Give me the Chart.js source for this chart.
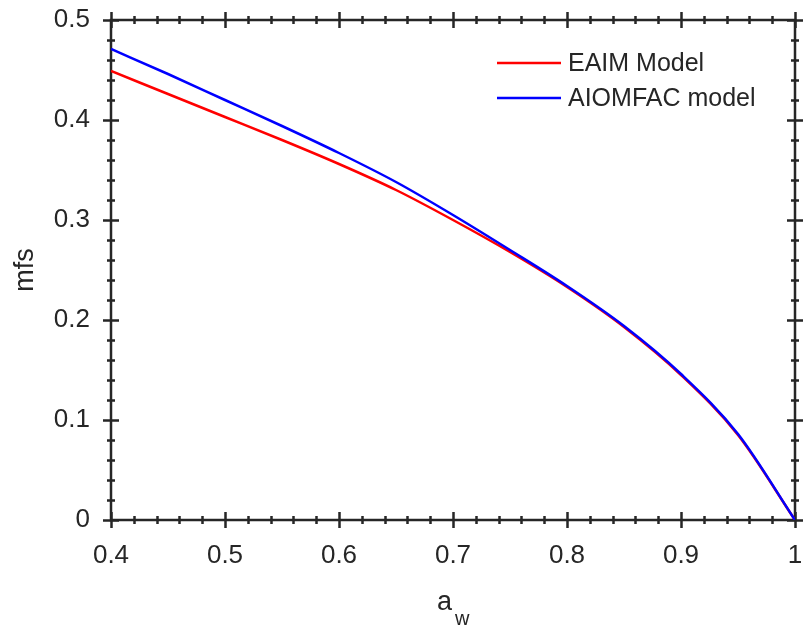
<!DOCTYPE html>
<html>
<head>
<meta charset="utf-8">
<script src="https://cdn.jsdelivr.net/npm/chart.js@4.4.1/dist/chart.umd.min.js"></script>
<style>
  html, body { margin: 0; padding: 0; background: #fff; }
  #wrap { width: 806px; height: 637px; }
</style>
</head>
<body>
<div id="wrap"><canvas id="myChart" width="806" height="637"></canvas></div>
<script>
'use strict';

// データ
const aw = [0.40, 0.45, 0.50, 0.55, 0.60, 0.65, 0.70, 0.75, 0.80, 0.85, 0.90, 0.95, 1.00];
const eaimMfs = [0.449, 0.426, 0.403, 0.380, 0.356, 0.330, 0.300, 0.268, 0.233, 0.193, 0.145, 0.085, 0.0];
const aiomfacMfs = [0.471, 0.446, 0.420, 0.394, 0.367, 0.338, 0.305, 0.270, 0.234, 0.194, 0.146, 0.086, 0.0];
const xTicks = [0.4, 0.5, 0.6, 0.7, 0.8, 0.9, 1.0];
const yTicks = [0, 0.1, 0.2, 0.3, 0.4, 0.5];
const seriesLabels = ['EAIM Model', 'AIOMFAC model'];

const AXIS_COLOR = '#262626';
const FONT = '"Liberation Sans", Arial, sans-serif';

function toPoints(xs, ys) {
    var pts = [];
    for (var i = 0; i < xs.length; i++) {
        pts.push({ x: xs[i], y: ys[i] });
    }
    return pts;
}

function fmt(v) {
    return String(Math.round(v * 10) / 10);
}

// 枠と目盛り（MATLAB風に内外へ出す）
const framePlugin = {
    id: 'frame',
    beforeDatasetsDraw(chart) {
        const ctx = chart.ctx;
        const a = chart.chartArea;
        const xs = chart.scales.x, ys = chart.scales.y;
        ctx.save();
        ctx.strokeStyle = AXIS_COLOR;
        ctx.lineWidth = 2.5;
        ctx.lineCap = 'butt';
        ctx.strokeRect(a.left, a.top, a.right - a.left, a.bottom - a.top);

        ctx.beginPath();
        // x 目盛り
        for (var i = 0; i <= 30; i++) {
            var v = 0.4 + i * 0.02;
            var px = Math.round(xs.getPixelForValue(v)) + 0.5;
            var len = (i % 5 === 0) ? 8 : 4;
            ctx.moveTo(px, a.bottom - len); ctx.lineTo(px, a.bottom + len);
            ctx.moveTo(px, a.top - len); ctx.lineTo(px, a.top + len);
        }
        // y 目盛り
        for (var j = 0; j <= 25; j++) {
            var w = j * 0.02;
            var py = Math.round(ys.getPixelForValue(w)) + 0.5;
            var l2 = (j % 5 === 0) ? 8 : 4;
            ctx.moveTo(a.left - l2, py); ctx.lineTo(a.left + l2, py);
            ctx.moveTo(a.right - l2, py); ctx.lineTo(a.right + l2, py);
        }
        ctx.stroke();
        ctx.restore();
    },
    afterDraw(chart) {
        const ctx = chart.ctx;
        ctx.save();
        // x 軸タイトル a_w
        ctx.fillStyle = AXIS_COLOR;
        ctx.textBaseline = 'alphabetic';
        ctx.textAlign = 'left';
        ctx.font = '27px ' + FONT;
        ctx.fillText('a', 437, 610);
        ctx.font = '20px ' + FONT;
        ctx.fillText('w', 455, 625);

        // 凡例（枠なし）
        const ds = chart.data.datasets;
        const order = [1, 0];
        ctx.font = '25px ' + FONT;
        ctx.textBaseline = 'middle';
        for (var k = 0; k < order.length; k++) {
            var d = ds[order[k]];
            var y = 63 + k * 35;
            ctx.strokeStyle = d.borderColor;
            ctx.lineWidth = 2.5;
            ctx.beginPath();
            ctx.moveTo(497, y); ctx.lineTo(561, y);
            ctx.stroke();
            ctx.fillStyle = AXIS_COLOR;
            ctx.fillText(d.label, 568, y + 1);
        }
        ctx.restore();
    }
};

const config = {
    type: 'line',
    data: {
        datasets: [
            {
                label: seriesLabels[1],
                data: toPoints(aw, aiomfacMfs),
                borderColor: '#0000ff',
                borderWidth: 2.5,
                pointRadius: 0,
                cubicInterpolationMode: 'monotone',
                order: 0
            },
            {
                label: seriesLabels[0],
                data: toPoints(aw, eaimMfs),
                borderColor: '#ff0000',
                borderWidth: 2.5,
                pointRadius: 0,
                cubicInterpolationMode: 'monotone',
                order: 1
            }
        ]
    },
    options: {
        responsive: false,
        animation: false,
        layout: { padding: { top: 20, right: 11, left: 0, bottom: 0 } },
        plugins: {
            legend: { display: false },
            tooltip: { enabled: false }
        },
        scales: {
            x: {
                type: 'linear',
                min: 0.4,
                max: 1.0,
                afterBuildTicks: s => { s.ticks = xTicks.map(v => ({ value: v })); },
                afterFit: s => { s.height = 117; s.paddingLeft = 0; s.paddingRight = 0; },
                grid: { display: false, drawTicks: false },
                border: { display: false },
                ticks: {
                    color: AXIS_COLOR,
                    font: { family: FONT, size: 26 },
                    padding: 20,
                    maxRotation: 0,
                    autoSkip: false,
                    callback: v => fmt(v)
                }
            },
            y: {
                type: 'linear',
                min: 0,
                max: 0.5,
                afterBuildTicks: s => { s.ticks = yTicks.map(v => ({ value: v })); },
                afterFit: s => { s.width = 111; s.paddingTop = 0; s.paddingBottom = 0; },
                grid: { display: false, drawTicks: false },
                border: { display: false },
                title: {
                    display: true,
                    text: 'mfs',
                    color: AXIS_COLOR,
                    font: { family: FONT, size: 27 },
                    padding: { top: 9, bottom: 0 }
                },
                ticks: {
                    color: AXIS_COLOR,
                    font: { family: FONT, size: 26 },
                    padding: 21,
                    autoSkip: false,
                    callback: v => fmt(v)
                }
            }
        }
    },
    plugins: [framePlugin]
};

const myChart = new Chart(document.getElementById('myChart'), config);
</script>
</body>
</html>
